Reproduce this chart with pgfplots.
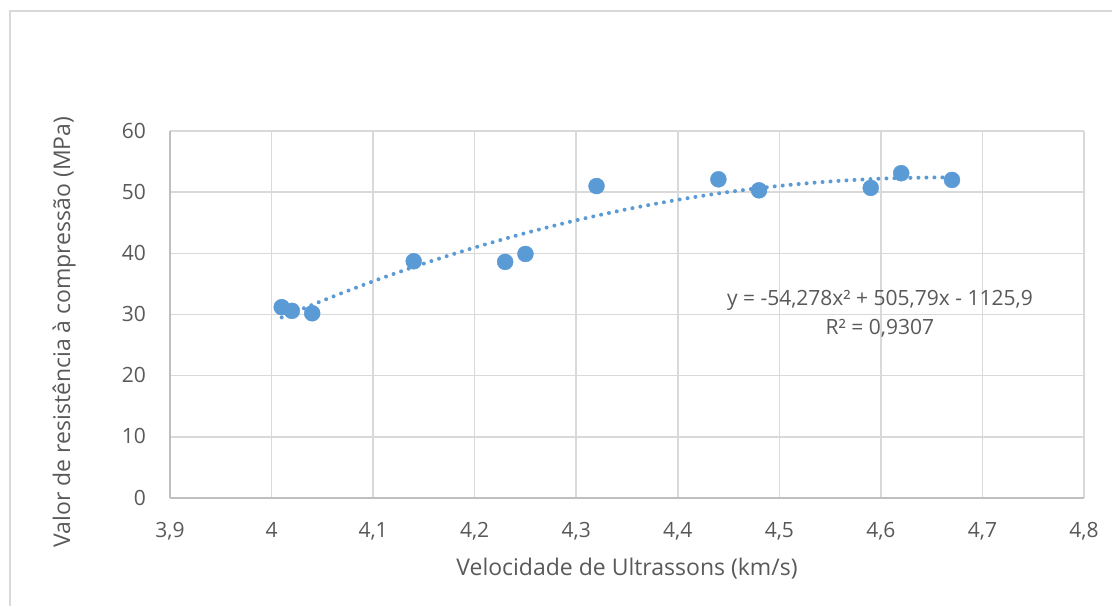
\documentclass[border=0pt]{standalone}
\usepackage{pgfplots}
\pgfplotsset{compat=1.18}
\usepackage{fontspec}
\setmainfont{Open Sans}
\definecolor{txt}{HTML}{595959}
\definecolor{grd}{HTML}{D9D9D9}
\definecolor{axl}{HTML}{BFBFBF}
\definecolor{blu}{HTML}{5B9BD5}
\begin{document}
\begin{tikzpicture}
\useasboundingbox (0pt,0pt) rectangle (1112pt,606pt);
\draw[grd, line width=1.5pt] (10pt,0pt) -- (10pt,595pt) -- (1112pt,595pt);
\begin{axis}[
  at={(170pt,108pt)}, anchor=south west,
  scale only axis, width=914pt, height=367pt,
  xmin=3.9, xmax=4.8, ymin=0, ymax=60,
  xtick={3.9,4,4.1,4.2,4.3,4.4,4.5,4.6,4.7,4.8},
  xticklabels={{3,9},4,{4,1},{4,2},{4,3},{4,4},{4,5},{4,6},{4,7},{4,8}},
  ytick={0,10,20,30,40,50,60},
  yticklabels={0,10,20,30,40,50,60},
  axis x line*=bottom, axis y line*=left,
  axis line style={-, axl, line width=1.5pt},
  major tick length=0pt,
  grid=major, major grid style={grd, line width=1.5pt},
  tick label style={font=\fontsize{21}{25}\selectfont, text=txt},
  xticklabel style={anchor=base, inner sep=0pt, yshift=-39pt},
  yticklabel style={anchor=base east, inner sep=0pt, xshift=-24pt, yshift=-7pt},
  label style={font=\fontsize{23}{28}\selectfont, text=txt},
  xlabel={Velocidade de Ultrassons (km/s)},
  ylabel={Valor de resistência à compressão (MPa)},
  xlabel style={at={(axis description cs:0.5,-0.2125)}, anchor=base, inner sep=0pt},
  ylabel style={at={(axis description cs:-0.1094,0.452)}, anchor=base, inner sep=0pt},
  clip=false,
]
\addplot[only marks, mark=*, mark size=8pt, mark options={fill=blu, draw=blu}] coordinates {
  (4.01,31.2) (4.02,30.6) (4.04,30.2) (4.14,38.7) (4.23,38.6) (4.25,39.9)
  (4.32,51.0) (4.44,52.1) (4.48,50.3) (4.59,50.7) (4.62,53.1) (4.67,52.0)
};
\addplot[blu, line width=4pt, dash pattern=on 0pt off 8pt, line cap=round, smooth] coordinates {
  (4.01,29.52) (4.05,32.25) (4.10,35.43) (4.15,38.33) (4.20,40.95) (4.25,43.31)
  (4.30,45.40) (4.35,47.21) (4.40,48.75) (4.45,50.03) (4.50,51.03) (4.55,51.75)
  (4.60,52.21) (4.65,52.40) (4.67,52.40)
};
\node[anchor=base, text=txt, font=\fontsize{21}{25}\selectfont, inner sep=0pt] at (axis cs:4.599,31.55) {y = -54,278x² + 505,79x - 1125,9};
\node[anchor=base, text=txt, font=\fontsize{21}{25}\selectfont, inner sep=0pt] at (axis cs:4.599,26.65) {R² = 0,9307};
\end{axis}
\end{tikzpicture}
\end{document}
